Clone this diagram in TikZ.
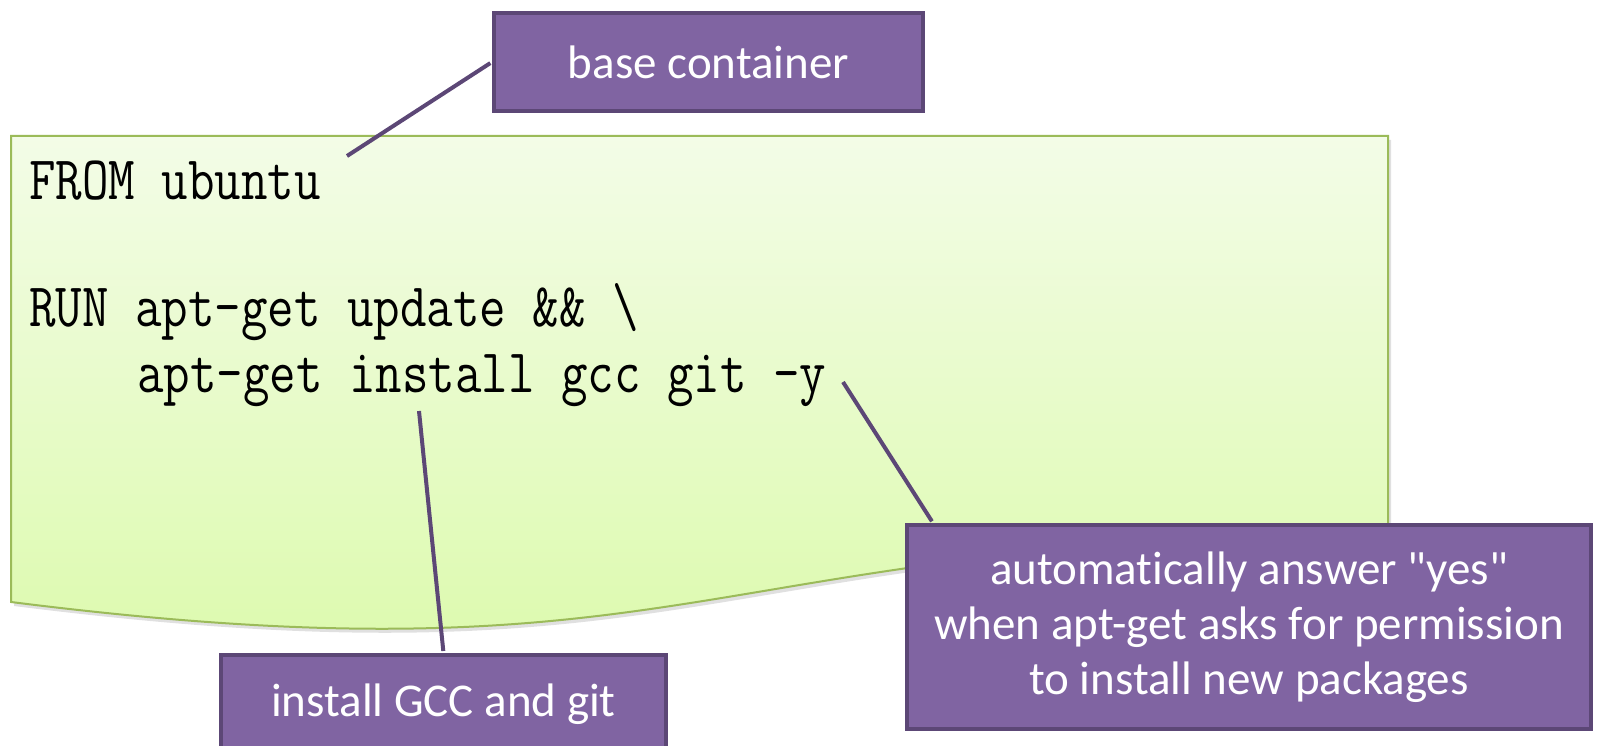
\documentclass[tikz,border=0pt]{standalone}
\usepackage{fontspec}
\newfontfamily\calloutfont[Ligatures=NoCommon]{Carlito}
\definecolor{boxpurple}{RGB}{128,100,162}
\definecolor{boxedge}{RGB}{92,71,118}
\definecolor{docedge}{RGB}{155,187,89}
\definecolor{doctop}{RGB}{243,252,231}
\definecolor{docbottom}{RGB}{219,250,170}
\begin{document}
\begin{tikzpicture}[x=1pt,y=-1pt,
		callout/.style={draw=boxedge,fill=boxpurple,line width=4pt,text=white,inner sep=0pt,align=center,font=\calloutfont\fontsize{47}{55}\selectfont},
		code/.style={anchor=base west,inner sep=0pt,font=\ttfamily\fontsize{62}{62}\selectfont},
		pointer/.style={draw=boxedge,line width=4pt,shorten <=2pt}]
		\useasboundingbox (0,0) rectangle (1599,746);
		\def\dockerfile{(11,136) -- (1388,136) -- (1388,536) .. controls (699,536) and (699,689) .. (11,602) -- cycle}
		\fill[black!12,shift={(3,4)}] \dockerfile;
		\shade[top color=doctop,bottom color=docbottom] \dockerfile;
		\draw[docedge,line width=2pt] \dockerfile;
		% the three lines of the file
		\node[code] (from) at (29,200) {\scalebox{0.83}[1]{FROM ubuntu}};
		\node[code] (run) at (29,326) {\scalebox{0.83}[1]{RUN apt-get update \&\& \textbackslash}};
		\node[code] (inst) at (137,392) {\scalebox{0.83}[1]{apt-get install gcc git -y}};
		\coordinate (fromtip) at (347,156);
		\coordinate (insttip) at (419,411);
		\coordinate (ytip) at (843,382);
		% notes
		\node[callout,minimum width=429pt,minimum height=98pt] (base) at (708.5,62) {base container};
		\node[callout,minimum width=445pt,minimum height=98pt] (gcc) at (443.5,704) {install GCC and git};
		\node[callout,minimum width=684pt,minimum height=204pt] (yes) at (1249,627) {automatically answer "yes"\\when apt-get asks for permission\\to install new packages};
		\draw[pointer] (base.west) -- (fromtip);
		\draw[pointer] (gcc.north) -- (insttip);
		\draw[pointer] ([xshift=28pt]yes.north west) -- (ytip);
	\end{tikzpicture}
\end{document}
